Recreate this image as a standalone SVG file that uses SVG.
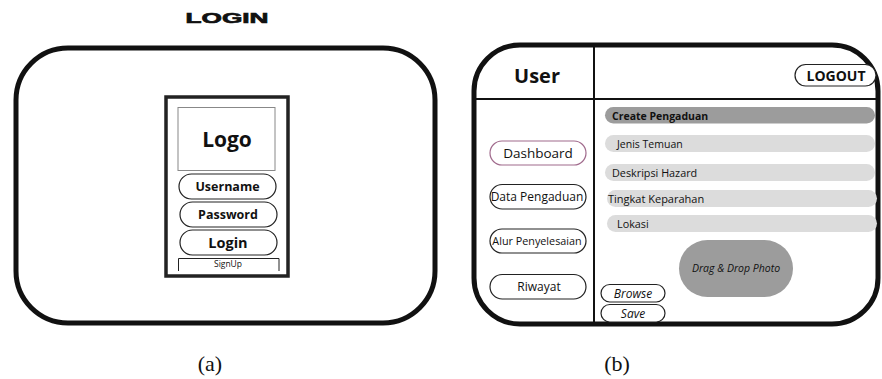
<svg xmlns="http://www.w3.org/2000/svg" width="882" height="379" viewBox="0 0 882 379">
<style>
.os{font-family:"Open Sans","Liberation Sans",sans-serif;fill:#111}
.b{font-weight:700}
.pill{fill:#fff;stroke:#222;stroke-width:1.2}
.bar{fill:#dcdcdc}
.cap{font-family:"Liberation Serif",serif;font-size:22px;fill:#111}
</style>
<rect width="882" height="379" fill="#fff"/>
<g id="panel-a">
  <text x="227" y="23" text-anchor="middle" font-family="Liberation Sans,sans-serif" font-weight="900" font-size="15.5" textLength="83" lengthAdjust="spacingAndGlyphs" fill="#111" stroke="#111" stroke-width="0.7">LOGIN</text>
  <rect id="a-frame" x="16" y="48" width="419" height="275" rx="52" fill="none" stroke="#111" stroke-width="5"/>
  <rect id="a-phone" x="166" y="97" width="122" height="179" fill="#fff" stroke="#222" stroke-width="3.5"/>
  <g id="a-logo"><rect x="178" y="107.5" width="97" height="63" fill="#fff" stroke="#888" stroke-width="1"/>
    <text class="os b" x="227" y="147" text-anchor="middle" font-size="21">Logo</text></g>
  <g id="a-username"><rect class="pill" x="179" y="174" width="97" height="25" rx="12.5"/>
    <text class="os b" x="227.5" y="191" text-anchor="middle" font-size="12.5">Username</text></g>
  <g id="a-password"><rect class="pill" x="180" y="202" width="97" height="25" rx="12.5"/>
    <text class="os b" x="228" y="219" text-anchor="middle" font-size="12.5">Password</text></g>
  <g id="a-login"><rect class="pill" x="180" y="230" width="97" height="25" rx="12.5"/>
    <text class="os b" x="228" y="248" text-anchor="middle" font-size="14.5">Login</text></g>
  <g id="a-signup"><path d="M178.5,271 V258.5 H279 V271" fill="none" stroke="#222" stroke-width="1"/>
    <text class="os" x="228" y="267" text-anchor="middle" font-size="8.5" fill="#333">SignUp</text></g>
</g>
<g id="panel-b">
  <rect id="b-frame" x="474" y="45" width="404" height="279" rx="46" fill="none" stroke="#111" stroke-width="5"/>
  <g id="b-dividers" stroke="#111" stroke-width="2">
    <line x1="594" y1="45" x2="594" y2="324"/>
    <line x1="474" y1="99" x2="880" y2="99"/>
  </g>
  <text id="b-user" class="os b" x="537" y="83" text-anchor="middle" font-size="20">User</text>
  <g id="b-logout"><rect class="pill" x="795" y="64.5" width="81" height="21.5" rx="10.75"/>
    <text class="os b" x="836" y="80.5" text-anchor="middle" font-size="14">LOGOUT</text></g>
  <g id="b-dashboard"><rect x="490" y="141" width="96" height="24" rx="12" fill="#fff" stroke="#a06a8c" stroke-width="1.2"/>
    <text class="os" x="538" y="158" text-anchor="middle" font-size="13.5">Dashboard</text></g>
  <g id="b-data"><rect class="pill" x="490" y="184.5" width="96" height="24.5" rx="12.25"/>
    <text class="os" x="537" y="201" text-anchor="middle" font-size="12">Data Pengaduan</text></g>
  <g id="b-alur"><rect class="pill" x="490" y="229" width="96" height="24" rx="12"/>
    <text class="os" x="537" y="245" text-anchor="middle" font-size="10.8">Alur Penyelesaian</text></g>
  <g id="b-riwayat"><rect class="pill" x="490" y="274.5" width="96" height="24.5" rx="12.25"/>
    <text class="os" x="539" y="291" text-anchor="middle" font-size="12">Riwayat</text></g>
  <g id="b-create"><rect x="605" y="107" width="270" height="16.5" rx="8.25" fill="#9c9c9c"/>
    <text class="os b" x="612" y="119.5" font-size="10.5">Create Pengaduan</text></g>
  <g id="b-jenis"><rect class="bar" x="605" y="135" width="270" height="17" rx="8.5"/>
    <text class="os" x="617" y="147.5" font-size="10.5">Jenis Temuan</text></g>
  <g id="b-deskripsi"><rect class="bar" x="605" y="164" width="270" height="17" rx="8.5"/>
    <text class="os" x="612" y="176.5" font-size="10.8">Deskripsi Hazard</text></g>
  <g id="b-tingkat"><rect class="bar" x="607" y="190" width="270" height="17" rx="8.5"/>
    <text class="os" x="608" y="202.5" font-size="11">Tingkat Keparahan</text></g>
  <g id="b-lokasi"><rect class="bar" x="607" y="215" width="270" height="17" rx="8.5"/>
    <text class="os" x="617" y="227.5" font-size="10.8">Lokasi</text></g>
  <g id="b-drop"><rect x="679" y="240" width="114" height="57" rx="28.5" fill="#9c9c9c"/>
    <text class="os" x="736" y="272" text-anchor="middle" font-size="10.5" font-style="italic" fill="#222">Drag &amp; Drop Photo</text></g>
  <g id="b-browse"><rect class="pill" x="601" y="284.5" width="64" height="17.5" rx="8.75"/>
    <text class="os" x="633" y="298" text-anchor="middle" font-size="12" font-style="italic">Browse</text></g>
  <g id="b-save"><rect class="pill" x="601" y="304.5" width="64" height="17.5" rx="8.75"/>
    <text class="os" x="633" y="318" text-anchor="middle" font-size="12" font-style="italic">Save</text></g>
</g>
<text class="cap" x="210" y="371" text-anchor="middle">(a)</text>
<text class="cap" x="617" y="371" text-anchor="middle">(b)</text>
</svg>
